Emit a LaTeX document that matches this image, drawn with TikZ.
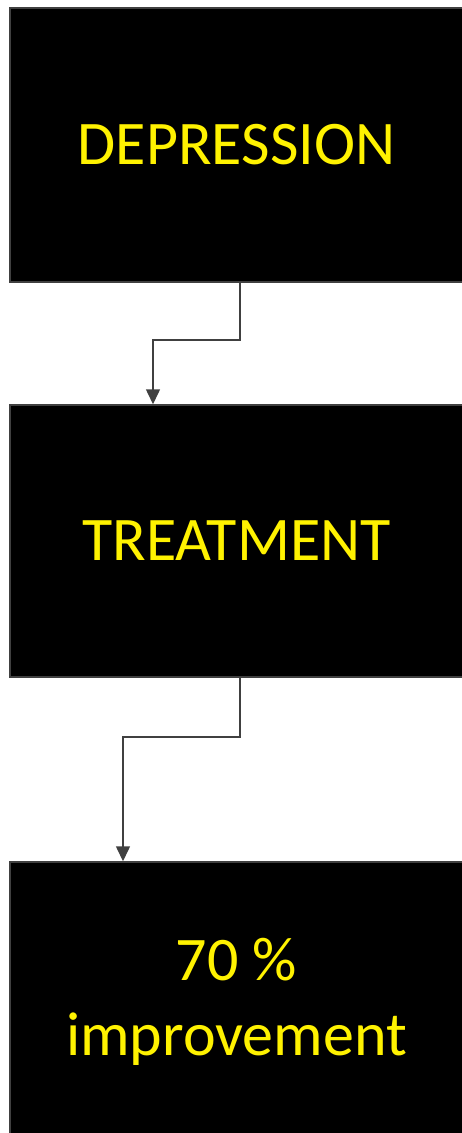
\documentclass[tikz,border=0pt]{standalone}
\usepackage{fontspec}
\setmainfont{Carlito}
\usetikzlibrary{positioning}
\usetikzlibrary{arrows.meta}

\begin{document}
\begin{tikzpicture}[
        x=1pt, y=1pt,
        % Standard style for the stage boxes
        stagebox/.style={
            draw=black!75,
            line width=1.5pt,
            fill=black,
            rectangle,
            minimum width=453pt,
            minimum height=274pt,
            text=yellow,
            font=\fontsize{62}{75.6}\selectfont,
            align=center,
            inner sep=0pt
        },
        connector/.style={
            draw=black!75,
            line width=1.5pt,
            -{Triangle[length=15pt,width=14pt]}
        }
        ]

        \useasboundingbox (0,0) rectangle (462,-1133);

        \node [stagebox] (depression) at (236.5,-145) {DEPRESSION};
        \node [stagebox, minimum height=272pt] (treatment) at (236.5,-541) {TREATMENT};
        \node [stagebox, minimum height=280pt] (improvement) at (236.5,-1002) {70 \%\\improvement};

        \draw[connector] ([xshift=3.5pt]depression.south) -- ++(0,-57) -| ([xshift=-83.5pt]treatment.north);
        \draw[connector] ([xshift=3.5pt]treatment.south) -- ++(0,-59) -| ([xshift=-113.5pt]improvement.north);
\end{tikzpicture}
\end{document}
